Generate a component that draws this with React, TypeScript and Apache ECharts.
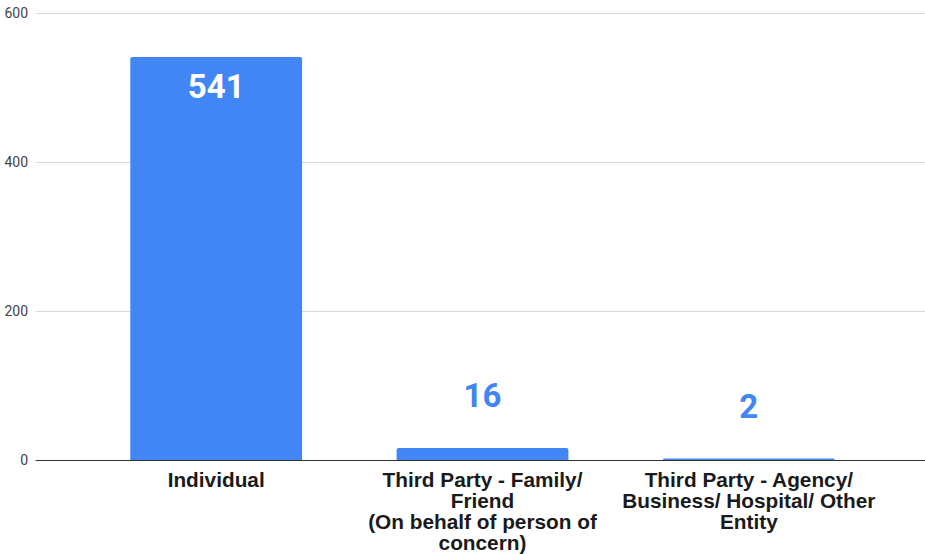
import React, { useEffect, useRef } from "react";
import * as echarts from "echarts";

const categories = [
  "Individual",
  "Third Party - Family/\nFriend\n(On behalf of person of\nconcern)",
  "Third Party - Agency/\nBusiness/ Hospital/ Other\nEntity",
];
const values = [541, 16, 2];
const labelInside = [true, false, false];
const yMin = 0;
const yMax = 600;
const yInterval = 200;

export default function App() {
  const ref = useRef<HTMLDivElement>(null);
  useEffect(() => {
    if (!ref.current) return;
    const chart = echarts.init(ref.current, undefined, { renderer: "svg" });
    const blue = "#4285F4";
    chart.setOption({
      animation: false,
      backgroundColor: "#ffffff",
      grid: [
        { left: 36, right: 0, top: 13, bottom: 94, containLabel: false },
        { left: 83, right: 43, top: 13, bottom: 94, containLabel: false },
      ],
      xAxis: [
        {
          gridIndex: 0,
          type: "value",
          min: 0,
          max: 1,
          axisLine: { show: true, onZero: false, lineStyle: { color: "#333333", width: 1 } },
          axisTick: { show: false },
          axisLabel: { show: false },
          splitLine: { show: false },
          z: 5,
        },
        {
          gridIndex: 1,
          type: "category",
          data: categories,
          axisLine: { show: false },
          axisTick: { show: false },
          axisLabel: {
            interval: 0,
            margin: 9,
            fontFamily: "Liberation Sans, Arial, sans-serif",
            fontWeight: "bold",
            fontSize: 20.8,
            lineHeight: 21,
            color: "#1a1a1a",
            align: "center",
            verticalAlign: "top",
          },
        },
      ],
      yAxis: [
        {
          gridIndex: 0,
          type: "value",
          min: yMin,
          max: yMax,
          interval: yInterval,
          axisLine: { show: false },
          axisTick: { show: false },
          axisLabel: {
            margin: 8,
            fontFamily: "Roboto, sans-serif",
            fontSize: 14,
            color: "#444444",
          },
          splitLine: { show: true, lineStyle: { color: "#d9d9d9", width: 1 } },
        },
        {
          gridIndex: 1,
          type: "value",
          min: yMin,
          max: yMax,
          interval: yInterval,
          show: false,
          splitLine: { show: false },
        },
      ],
      series: [
        {
          type: "bar",
          xAxisIndex: 1,
          yAxisIndex: 1,
          barCategoryGap: "35.5%",
          itemStyle: { color: blue, borderRadius: [2, 2, 0, 0] },
          data: values.map((v, i) => ({
            value: v,
            label: labelInside[i]
              ? { show: true, position: "insideTop", distance: 13, color: "#ffffff" }
              : { show: true, position: "top", distance: 36, color: blue },
          })),
          label: {
            show: true,
            fontFamily: "Roboto, sans-serif",
            fontWeight: "bold",
            fontSize: 33,
          },
        },
      ],
    });
    return () => chart.dispose();
  }, []);
  return (
    <div
      ref={ref}
      style={{ position: "fixed", left: 0, top: 0, width: 925, height: 554 }}
    />
  );
}
